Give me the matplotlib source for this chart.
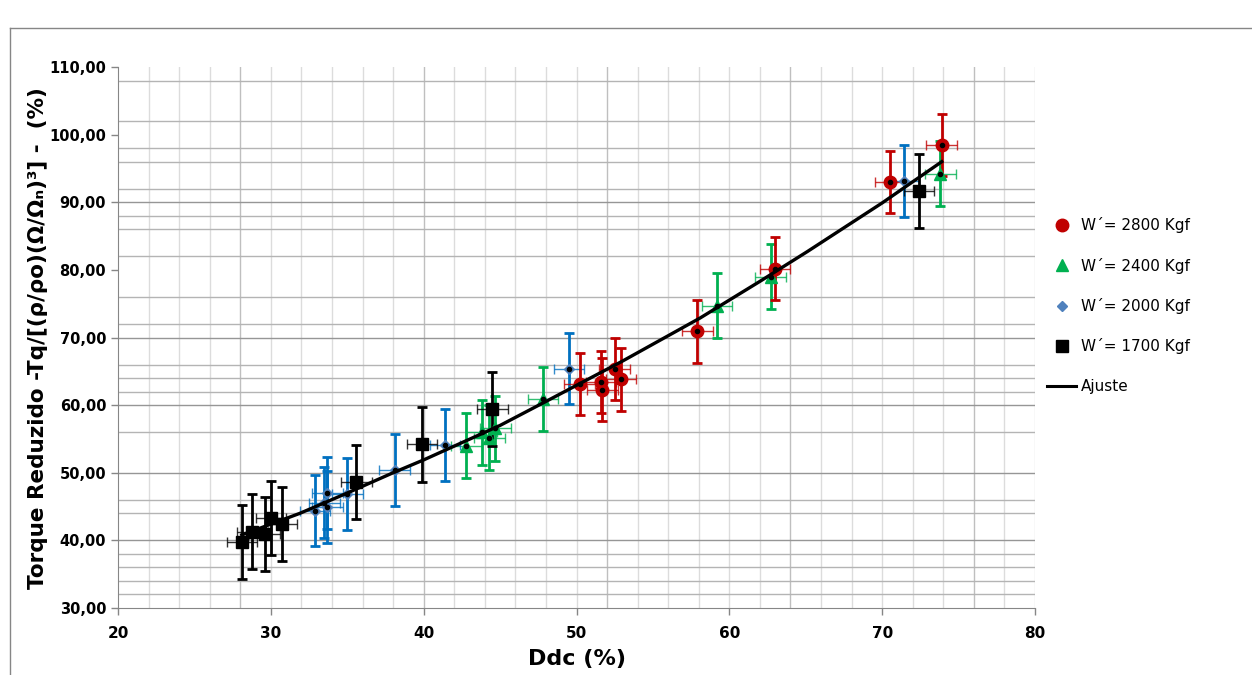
import numpy as np
import matplotlib.pyplot as plt
from matplotlib.lines import Line2D

# W' = 2800 Kgf
x_2800 = [50.2, 51.6, 51.7, 52.5, 52.9, 57.9, 63.0, 70.5, 73.9]
y_2800 = [63.1, 63.4, 62.3, 65.4, 63.8, 70.9, 80.2, 93.0, 98.5]
# W' = 2400 Kgf
x_2400 = [42.8, 43.8, 44.3, 44.7, 47.8, 59.2, 62.7, 73.8]
y_2400 = [54.0, 56.0, 55.2, 56.6, 60.9, 74.7, 79.0, 94.2]
# W' = 2000 Kgf
x_2000 = [32.9, 33.5, 33.7, 33.7, 35.0, 38.1, 41.4, 49.5, 71.4]
y_2000 = [44.4, 45.6, 47.0, 44.9, 46.9, 50.4, 54.1, 65.4, 93.1]
# W' = 1700 Kgf
x_1700 = [28.1, 28.8, 29.6, 30.0, 30.7, 35.6, 39.9, 44.5, 72.4]
y_1700 = [39.8, 41.3, 40.9, 43.3, 42.4, 48.6, 54.2, 59.4, 91.7]

# error bar half-widths
yerr_2800, yerr_2400, yerr_2000, yerr_1700 = 4.6, 4.8, 5.3, 5.5
xerr_all = 1.0

# fit curve (Ajuste)
x_fit = [28.1, 31.9, 35.0, 38.0, 40.0, 45.0, 48.3, 53.0, 58.1, 62.0, 65.1, 70.0, 73.9]
y_fit = [40.8, 44.0, 47.0, 50.0, 51.9, 57.0, 60.9, 66.5, 72.9, 78.3, 82.7, 89.9, 96.0]

series = [
    (x_2400, y_2400, yerr_2400, '^', '#00B050', '#00B050', 8, "W´= 2400 Kgf"),
    (x_2000, y_2000, yerr_2000, 'D', '#4F81BD', '#0070C0', 5, "W´= 2000 Kgf"),
    (x_2800, y_2800, yerr_2800, 'o', '#C00000', '#C00000', 9, "W´= 2800 Kgf"),
    (x_1700, y_1700, yerr_1700, 's', '#000000', '#000000', 9, "W´= 1700 Kgf"),
]

fig = plt.figure(figsize=(12.52, 6.75), dpi=100)
ax = fig.add_axes([118/1252, 67/675, 917/1252, 541/675])

# outer chart frame
fig.add_artist(Line2D([10/1252, 10/1252], [0, 1 - 28/675], color='#868686', lw=1))
fig.add_artist(Line2D([10/1252, 1.0], [1 - 28/675, 1 - 28/675], color='#868686', lw=1))

# grid
for v in np.arange(22, 81, 2):
    c = '#BFBFBF' if v in (28, 40, 52, 64, 76) else '#DCDCDC'
    ax.axvline(v, color=c, lw=1, zorder=0)
hgrid = [32, 34, 36, 38, 40, 44, 46, 50, 56, 60, 62, 64, 66, 70, 72, 76,
         82, 86, 88, 90, 92, 96, 98, 102, 108]
for v in hgrid:
    c = '#969696' if v in (40, 50, 60, 70, 90) else '#B4B4B4'
    ax.axhline(v, color=c, lw=1, zorder=0)

for xs, ys, ye, mk, mc, ec, ms, lab in series:
    ax.errorbar(xs, ys, xerr=xerr_all, fmt='none', ecolor=ec, elinewidth=1,
                capsize=3.5, capthick=1, alpha=0.8, zorder=2)
    ax.errorbar(xs, ys, yerr=ye, fmt='none', ecolor=ec, elinewidth=2,
                capsize=3.5, capthick=2, zorder=2)
    ax.plot(xs, ys, linestyle='none', marker=mk, ms=ms, color=mc, zorder=3)

ax.plot(x_fit, y_fit, color='black', lw=2.4, zorder=4)

for xs, ys, ye, mk, mc, ec, ms, lab in series:
    ax.plot(xs, ys, linestyle='none', marker='o', ms=3, color='black', zorder=5)

ax.set_xlim(20, 80)
ax.set_ylim(30, 110)
ax.set_xticks(np.arange(20, 81, 10))
ax.set_yticks(np.arange(30, 111, 10))
ax.set_yticklabels([f"{v:.2f}".replace('.', ',') for v in np.arange(30, 111, 10)],
                   fontsize=10.5, fontweight='bold')
ax.set_xticklabels([str(v) for v in range(20, 81, 10)], fontsize=11, fontweight='bold')
ax.tick_params(axis='both', direction='out', length=5, color='#868686', width=1)
ax.tick_params(axis='x', pad=8)
for s in ('top', 'right'):
    ax.spines[s].set_visible(False)
for s in ('left', 'bottom'):
    ax.spines[s].set_color('#868686')

ax.set_xlabel("Ddc (%)", fontsize=16, fontweight='bold', labelpad=6)
fig.text(38/1252, 1 - 338/675, "Torque Reduzido -Tq/[(ρ/ρo)(Ω/Ωₙ)³] -  (%)",
         rotation=90, ha='center', va='center', fontsize=15.5, fontweight='bold')

handles = [
    Line2D([], [], linestyle='none', marker='o', ms=9, color='#C00000'),
    Line2D([], [], linestyle='none', marker='^', ms=8, color='#00B050'),
    Line2D([], [], linestyle='none', marker='D', ms=5, color='#4F81BD'),
    Line2D([], [], linestyle='none', marker='s', ms=9, color='#000000'),
    Line2D([], [], color='black', lw=2.2),
]
labels = ["W´= 2800 Kgf", "W´= 2400 Kgf", "W´= 2000 Kgf", "W´= 1700 Kgf", "Ajuste"]
fig.legend(handles, labels, loc='center left', bbox_to_anchor=(1047/1252, 1 - 305.5/675),
           frameon=False, fontsize=11, handlelength=1.9, handletextpad=0.3,
           labelspacing=1.6, borderpad=0, borderaxespad=0)

fig.savefig("out.png", dpi=100)
